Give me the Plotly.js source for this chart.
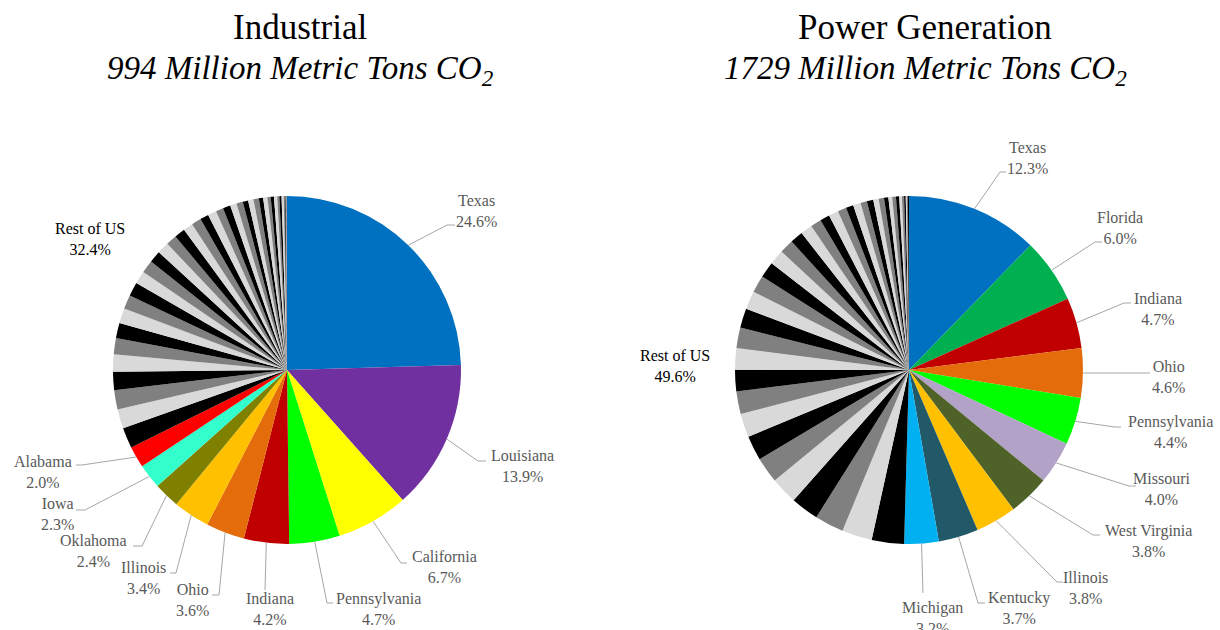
<!DOCTYPE html>
<html>
<head>
<meta charset="utf-8">
<script src="https://cdn.plot.ly/plotly-3.0.1.min.js"></script>
<style>
  html, body { margin: 0; padding: 0; background: #ffffff; }
  #chart { width: 1220px; height: 630px; }
</style>
</head>
<body>
<div id="chart"></div>
<script>
// ---- Data: share of US CO2 emissions by state (%) ----
const industrialStates = ['Texas', 'Louisiana', 'California', 'Pennsylvania', 'Indiana',
                          'Ohio', 'Illinois', 'Oklahoma', 'Iowa', 'Alabama'];
const industrialShares = [24.6, 13.9, 6.7, 4.7, 4.2, 3.6, 3.4, 2.4, 2.3, 2.0];
// remaining states, largest first
const industrialRest = [1.9, 1.8, 1.8, 1.7, 1.6, 1.5, 1.4, 1.4, 1.3, 1.3,
                        1.2, 1.2, 1.1, 1.1, 1.0, 1.0, 0.9, 0.9, 0.8, 0.8,
                        0.7, 0.7, 0.6, 0.6, 0.5, 0.5, 0.5, 0.4, 0.4, 0.3,
                        0.3, 0.3, 0.2, 0.2, 0.2, 0.1, 0.08, 0.06, 0.04, 0.02];

const powerStates = ['Texas', 'Florida', 'Indiana', 'Ohio', 'Pennsylvania', 'Missouri',
                     'West Virginia', 'Illinois', 'Kentucky', 'Michigan'];
const powerShares = [12.3, 6.0, 4.7, 4.6, 4.4, 4.0, 3.8, 3.8, 3.7, 3.2];
const powerRest = [3.0, 2.8, 2.7, 2.6, 2.5, 2.4, 2.3, 2.2, 2.1, 2.0,
                   2.0, 1.9, 1.8, 1.7, 1.6, 1.5, 1.4, 1.3, 1.2, 1.1,
                   1.0, 0.9, 0.9, 0.8, 0.7, 0.7, 0.6, 0.6, 0.5, 0.5,
                   0.4, 0.35, 0.35, 0.3, 0.25, 0.2, 0.15, 0.1, 0.1, 0.1];

const industrialTotal = 994;   // million metric tons CO2
const powerTotal = 1729;
const restLabel = 'Rest of US';

// ---- Styling ----
const industrialColors = ['#0070C0', '#7030A0', '#FFFF00', '#00FF00', '#C00000',
                          '#E46C0A', '#FFC000', '#808000', '#33FFCC', '#FF0000'];
const powerColors = ['#0070C0', '#00B050', '#C00000', '#E46C0A', '#00FF00',
                     '#B3A2C7', '#4F6228', '#FFC000', '#215968', '#00B0F0'];
const restCycle = ['#000000', '#D9D9D9', '#808080'];

const W = 1220, H = 630;
const SERIF = 'Liberation Serif, DejaVu Serif, serif';
const LABEL_FONT = { family: SERIF, size: 16, color: '#595959' };
const LEADER = { color: '#A6A6A6', width: 1 };

// pie geometry in pixels
const leftPie = { cx: 287, cy: 370, r: 174 };
const rightPie = { cx: 909, cy: 370, r: 174 };

// label block centres (cx, cy), leader end (ex, ey) and elbow offset
const industrialPlacement = {
  'Texas':        { cx: 476, cy: 211, ex: 455, ey: 225, stub: 8 },
  'Louisiana':    { cx: 522, cy: 466, ex: 486, ey: 461, stub: 8 },
  'California':   { cx: 444, cy: 567, ex: 407, ey: 563, stub: 6 },
  'Pennsylvania': { cx: 378, cy: 609, ex: 333, ey: 603, stub: 6 },
  'Indiana':      { cx: 270, cy: 609, ex: 265, ey: 590, stub: 0 },
  'Ohio':         { cx: 192, cy: 600, ex: 212, ey: 595, stub: -7 },
  'Illinois':     { cx: 143, cy: 578, ex: 170, ey: 573, stub: -6 },
  'Oklahoma':     { cx: 93,  cy: 551, ex: 133, ey: 546, stub: -9 },
  'Iowa':         { cx: 57,  cy: 514, ex: 76,  ey: 510, stub: -9 },
  'Alabama':      { cx: 43,  cy: 472, ex: 76,  ey: 465, stub: -6 },
  'rest':         { cx: 90,  cy: 239 }
};
const powerPlacement = {
  'Texas':         { cx: 1027, cy: 158, ex: 1006, ey: 172, stub: 6 },
  'Florida':       { cx: 1120, cy: 228, ex: 1102, ey: 242, stub: 7 },
  'Indiana':       { cx: 1158, cy: 309, ex: 1131, ey: 303, stub: 7 },
  'Ohio':          { cx: 1168, cy: 377, ex: 1150, ey: 373, stub: 7 },
  'Pennsylvania':  { cx: 1170, cy: 432, ex: 1121, ey: 427, stub: 6 },
  'Missouri':      { cx: 1161, cy: 489, ex: 1136, ey: 486, stub: 7 },
  'West Virginia': { cx: 1148, cy: 541, ex: 1100, ey: 535, stub: 7 },
  'Illinois':      { cx: 1085, cy: 588, ex: 1063, ey: 582, stub: 6 },
  'Kentucky':      { cx: 1019, cy: 608, ex: 985,  ey: 603, stub: 7 },
  'Michigan':      { cx: 932,  cy: 618, ex: 923,  ey: 593, stub: 0 },
  'rest':          { cx: 675,  cy: 366 }
};

const px = x => x / W;
const py = y => 1 - y / H;
const sum = a => a.reduce((s, v) => s + v, 0);

function pieTrace(states, shares, rest, colors, geo) {
  const labels = states.concat(rest.map((_, i) => restLabel + ' ' + (i + 1)));
  const values = shares.concat(rest);
  const cols = colors.concat(rest.map((_, i) => restCycle[i % restCycle.length]));
  return {
    type: 'pie',
    labels: labels,
    values: values,
    sort: false,
    direction: 'clockwise',
    rotation: 0,
    textinfo: 'none',
    hoverinfo: 'label+percent',
    marker: { colors: cols, line: { width: 0 } },
    showlegend: false,
    domain: {
      x: [px(geo.cx - geo.r), px(geo.cx + geo.r)],
      y: [py(geo.cy + geo.r), py(geo.cy - geo.r)]
    }
  };
}

function labelsFor(states, shares, rest, geo, placement, shapes, annots) {
  const total = sum(shares) + sum(rest);
  let cum = 0;
  states.forEach((name, i) => {
    const v = shares[i];
    const theta = 2 * Math.PI * (cum + v / 2) / total;
    cum += v;
    const x0 = geo.cx + geo.r * Math.sin(theta);
    const y0 = geo.cy - geo.r * Math.cos(theta);
    const p = placement[name];
    let path = `M ${px(x0)},${py(y0)}`;
    if (p.stub) path += ` L ${px(p.ex - p.stub)},${py(p.ey)}`;
    path += ` L ${px(p.ex)},${py(p.ey)}`;
    shapes.push({ type: 'path', xref: 'paper', yref: 'paper', path: path, line: LEADER });
    annots.push({
      xref: 'paper', yref: 'paper', x: px(p.cx), y: py(p.cy),
      xanchor: 'center', yanchor: 'middle', align: 'center', showarrow: false,
      text: `${name}<br>${v.toFixed(1)}%`, font: LABEL_FONT
    });
  });
  const r = placement.rest;
  annots.push({
    xref: 'paper', yref: 'paper', x: px(r.cx), y: py(r.cy),
    xanchor: 'center', yanchor: 'middle', align: 'center', showarrow: false,
    text: `${restLabel}<br>${sum(rest).toFixed(1)}%`,
    font: { family: SERIF, size: 16, color: '#000000' }
  });
}

function titleFor(cx, heading, total, annots) {
  annots.push({
    xref: 'paper', yref: 'paper', x: px(cx), y: py(28),
    xanchor: 'center', yanchor: 'middle', showarrow: false,
    text: heading, font: { family: SERIF, size: 35, color: '#000000' }
  });
  annots.push({
    xref: 'paper', yref: 'paper', x: px(cx), y: py(70),
    xanchor: 'center', yanchor: 'middle', showarrow: false,
    text: `<i>${total} Million Metric Tons CO<sub>2</sub></i>`,
    font: { family: SERIF, size: 33, color: '#000000' }
  });
}

const shapes = [], annotations = [];
labelsFor(industrialStates, industrialShares, industrialRest, leftPie, industrialPlacement, shapes, annotations);
labelsFor(powerStates, powerShares, powerRest, rightPie, powerPlacement, shapes, annotations);
titleFor(300, 'Industrial', industrialTotal, annotations);
titleFor(925, 'Power Generation', powerTotal, annotations);

const data = [
  pieTrace(industrialStates, industrialShares, industrialRest, industrialColors, leftPie),
  pieTrace(powerStates, powerShares, powerRest, powerColors, rightPie)
];

const layout = {
  width: W, height: H,
  margin: { l: 0, r: 0, t: 0, b: 0 },
  paper_bgcolor: '#ffffff',
  plot_bgcolor: '#ffffff',
  showlegend: false,
  shapes: shapes,
  annotations: annotations
};

Plotly.newPlot('chart', data, layout, { displayModeBar: false, staticPlot: true });
</script>
</body>
</html>
